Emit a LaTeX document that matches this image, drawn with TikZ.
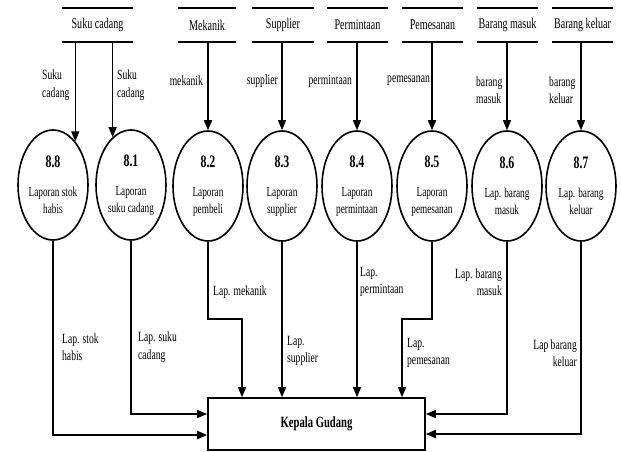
\documentclass[tikz,border=0pt]{standalone}
\usepackage{fontspec}
\setmainfont{Liberation Serif}[FakeStretch=0.68]
\usetikzlibrary{arrows.meta,shapes.geometric}
\newcommand\pnum[1]{{\fontsize{17.5}{17.5}\selectfont\bfseries #1}}
\begin{document}
\begin{tikzpicture}[x=1pt,y=-1pt,
  proc/.style={ellipse,draw,line width=1.6pt,minimum width=70pt,minimum height=110pt,inner sep=0pt,align=center,font=\fontsize{13.6}{17}\selectfont},
  store/.style={minimum height=34pt,inner sep=0pt,font=\fontsize{14.8}{15}\selectfont},
  storeline/.style={line width=1.6pt},
  flow/.style={line width=1.3pt,-{Triangle[length=10pt,width=8pt]}},
  thickflow/.style={flow,line width=1.9pt},
  lbl/.style={font=\fontsize{14.1}{17.5}\selectfont,inner sep=0pt},
  entity/.style={draw,line width=1.6pt,minimum width=217pt,minimum height=52pt,font=\fontsize{15.6}{16}\selectfont\bfseries}
]
\useasboundingbox (0,0) rectangle (621,452);

% data stores
\node[store,minimum width=71pt] (s1) at (97.5,25) {Suku cadang};
\node[store,minimum width=58pt] (s2) at (207,25) {Mekanik};
\node[store,minimum width=62pt] (s3) at (283,25) {Supplier};
\node[store,minimum width=61pt] (s4) at (357.5,25) {Permintaan};
\node[store,minimum width=61pt] (s5) at (432.5,25) {Pemesanan};
\node[store,minimum width=61pt] (s6) at (507.5,25) {Barang masuk};
\node[store,minimum width=61pt] (s7) at (582.5,25) {Barang keluar};
\foreach \s in {s1,s2,s3,s4,s5,s6,s7}{
  \draw[storeline] (\s.north west) -- (\s.north east) (\s.south west) -- (\s.south east);
}

% processes
\node[proc] (c88) at (53,185) {\pnum{8.8}\\[12pt]Laporan stok\\habis};
\node[proc] (c81) at (131,185) {\pnum{8.1}\\[12pt]Laporan\\suku cadang};
\node[proc] (c82) at (208,186) {\pnum{8.2}\\[12pt]Laporan\\pembeli};
\node[proc] (c83) at (282,186) {\pnum{8.3}\\[12pt]Laporan\\supplier};
\node[proc] (c84) at (357,186) {\pnum{8.4}\\[12pt]Laporan\\permintaan};
\node[proc] (c85) at (432,186) {\pnum{8.5}\\[12pt]Laporan\\pemesanan};
\node[proc] (c86) at (507,186) {\pnum{8.6}\\[12pt]Lap. barang\\masuk};
\node[proc] (c87) at (581,186) {\pnum{8.7}\\[12pt]Lap. barang\\keluar};

% external entity
\node[entity] (kg) at (316.5,424) {Kepala Gudang};

% flows from stores
\draw[flow] (c88.63 |- s1.south) -- (c88.63);
\draw[flow] (c81.111 |- s1.south) -- (c81.111);
\draw[flow] (c82.north |- s2.south) -- (c82.north);
\draw[flow] (c83.north |- s3.south) -- (c83.north);
\draw[flow] (c84.north |- s4.south) -- (c84.north);
\draw[flow] (c85.north |- s5.south) -- (c85.north);
\draw[flow] (c86.north |- s6.south) -- (c86.north);
\draw[flow] (c87.north |- s7.south) -- (c87.north);

\node[lbl,anchor=west,align=left] (t1) at (42,85) {Suku\\cadang};
\node[lbl,anchor=west,align=left] (t2) at (117,85) {Suku\\cadang};
\node[lbl,anchor=east] (t3) at (203,81) {mekanik};
\node[lbl,anchor=east] (t4) at (278,81) {supplier};
\node[lbl,anchor=east] (t5) at (352,81) {permintaan};
\node[lbl,anchor=east] (t6) at (430,81) {pemesanan};
\node[lbl,anchor=west,align=left] (t7) at (476,90) {barang\\masuk};
\node[lbl,anchor=west,align=left] (t8) at (549,90) {barang\\keluar};

% flows to Kepala Gudang
\coordinate (b2) at (242,319);
\coordinate (b5) at (402,319);
\draw[thickflow] (c88.south) |- (kg.west |- 0,435);
\draw[flow] (c81.south) |- (kg.west |- 0,414);
\draw[flow] (c82.south) |- (b2) -- (b2 |- kg.north);
\draw[flow] (c83.south) -- (c83.south |- kg.north);
\draw[flow] (c84.south) -- (c84.south |- kg.north);
\draw[flow] (c85.south) |- (b5) -- (b5 |- kg.north);
\draw[flow] (c86.south) |- (kg.east |- 0,414);
\draw[thickflow] (c87.south) |- (kg.east |- 0,434);

\node[lbl,anchor=west,align=left] (u1) at (62,347) {Lap. stok\\habis};
\node[lbl,anchor=west,align=left] (u2) at (138,347) {Lap. suku\\cadang};
\node[lbl,anchor=west] (u3) at (213,292) {Lap. mekanik};
\node[lbl,anchor=west,align=left] (u4) at (287,351) {Lap.\\supplier};
\node[lbl,anchor=west,align=left] (u5) at (360,282) {Lap.\\permintaan};
\node[lbl,anchor=west,align=left] (u6) at (407,353) {Lap.\\pemesanan};
\node[lbl,anchor=east,align=right] (u7) at (502,282) {Lap. barang\\masuk};
\node[lbl,anchor=east,align=right] (u8) at (577,353) {Lap barang\\keluar};
\end{tikzpicture}
\end{document}
